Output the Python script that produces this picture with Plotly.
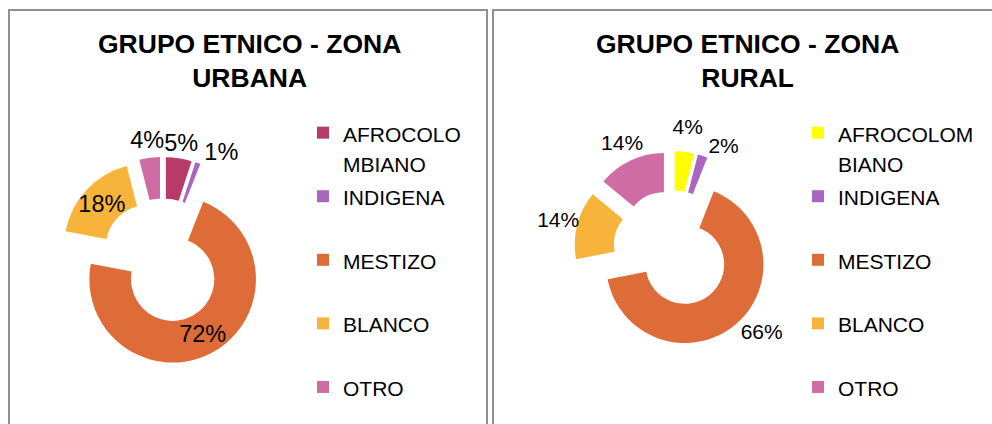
import plotly.graph_objects as go

# ---------------- data ----------------
categories = ["AFROCOLOMBIANO", "INDIGENA", "MESTIZO", "BLANCO", "OTRO"]
urban_values = [5, 1, 72, 18, 4]
rural_values = [4, 2, 66, 14, 14]
urban_title = "GRUPO ETNICO - ZONA<br>URBANA"
rural_title = "GRUPO ETNICO - ZONA<br>RURAL"
urban_colors = ["#B83A66", "#A866C0", "#DE6C38", "#F8B43A", "#D06CA4"]
rural_colors = ["#FFFF00", "#A866C0", "#DE6C38", "#F8B43A", "#D06CA4"]

W, H = 992, 424
FONT = "Liberation Sans, Arial, sans-serif"
PULL = 0.25
TEXTFONT = dict(family=FONT, size=21, color="black")
URBAN_TPL = "<span style='font-size:23.5px'>%{percent:.0%}</span>"
RURAL_TPL = "%{percent:.0%}"


def legend_labels(names, wrap, style):
    out = []
    for k, n in enumerate(names):
        if len(n) > wrap:
            lines = [n[:wrap], n[wrap:]]
        else:
            lines = [n, " "]
        if k == len(names) - 1:
            lines = [l for l in lines if l.strip()]
        out.append("<br>".join("<span style='%s'>%s</span>" % (style, l) for l in lines))
    return out


def domain(cx, cy, r, pull):
    half = r * (1 + pull)
    return dict(x=[(cx - half) / W, (cx + half) / W],
                y=[1 - (cy + half) / H, 1 - (cy - half) / H])


def main_pie(labels, values, colors, cx, cy, r, tpl, textpos, legend):
    return go.Pie(
        labels=labels, values=values, sort=False,
        direction="clockwise", rotation=0, hole=0.5, pull=PULL,
        marker=dict(colors=colors, line=dict(width=0)),
        texttemplate=tpl, textposition=textpos,
        insidetextorientation="horizontal", textfont=TEXTFONT,
        domain=domain(cx, cy, r, PULL), legend=legend,
        hoverinfo="label+percent",
    )


def label_pie(labels, values, cx, cy, real_r, r, hole, tpl, textpos):
    # transparent pie used only to place data labels
    pull = PULL * real_r / r
    return go.Pie(
        labels=labels, values=values, sort=False,
        direction="clockwise", rotation=0, hole=hole, pull=pull,
        marker=dict(colors=["rgba(0,0,0,0)"] * len(values), line=dict(width=0)),
        texttemplate=tpl, textposition=textpos,
        insidetextorientation="horizontal", textfont=TEXTFONT,
        domain=domain(cx, cy, r, pull), showlegend=False, hoverinfo="skip",
    )


u_labels = legend_labels(categories, 8, "font-size:21px")
r_labels = legend_labels(categories, 9, "font-size:21px;")

UCX, UCY, UR = 162.6, 261, 83.3
RCX, RCY, RR = 672.3, 249.3, 78.6

fig = go.Figure()
fig.add_trace(main_pie(u_labels, urban_values, urban_colors, UCX, UCY, UR, URBAN_TPL,
                       ["none", "outside", "none", "inside", "none"], "legend"))
fig.add_trace(label_pie(u_labels, urban_values, UCX, UCY, UR, 114, 0.096, URBAN_TPL,
                        ["inside", "none", "inside", "none", "inside"]))
fig.add_trace(main_pie(r_labels, rural_values, rural_colors, RCX, RCY, RR, RURAL_TPL,
                       ["none", "outside", "outside", "none", "none"], "legend2"))
fig.add_trace(label_pie(r_labels, rural_values, RCX, RCY, RR, 117, 0, RURAL_TPL,
                        ["inside", "none", "none", "none", "none"]))
fig.add_trace(label_pie(r_labels, rural_values, RCX, RCY, RR, 140, 0, RURAL_TPL,
                        ["none", "none", "none", "inside", "inside"]))

leg_common = dict(font=dict(family=FONT, size=23.3, color="black"),
                  valign="top", yanchor="top", xanchor="left",
                  bgcolor="rgba(0,0,0,0)", traceorder="normal")

annotations = []
for cx, t in [(249, urban_title), (747, rural_title)]:
    annotations.append(dict(
        text="<b>%s</b>" % t, x=cx / W, y=1 - 60.5 / H,
        xref="paper", yref="paper", xanchor="center", yanchor="middle",
        showarrow=False, font=dict(family=FONT, size=26.5, color="black")))

shapes = [
    dict(type="rect", xref="paper", yref="paper", x0=9 / W, x1=487 / W,
         y0=-0.2, y1=1 - 10 / H, line=dict(color="#8F8F8F", width=2)),
    dict(type="rect", xref="paper", yref="paper", x0=493 / W, x1=1.1,
         y0=-0.2, y1=1 - 10 / H, line=dict(color="#8F8F8F", width=2)),
]

fig.update_layout(
    width=W, height=H, margin=dict(l=0, r=0, t=0, b=0, autoexpand=False),
    paper_bgcolor="white", plot_bgcolor="white",
    showlegend=True,
    uniformtext=dict(mode="show", minsize=21),
    legend=dict(x=303 / W, y=1 - 111 / H, **leg_common),
    legend2=dict(x=798 / W, y=1 - 111 / H, **leg_common),
    annotations=annotations, shapes=shapes,
    font=dict(family=FONT),
)

fig.write_html(
    "out.html",
    config={"displayModeBar": False},
    post_script="document.body.style.margin='0';"
                "document.documentElement.style.overflow='hidden';",
)
